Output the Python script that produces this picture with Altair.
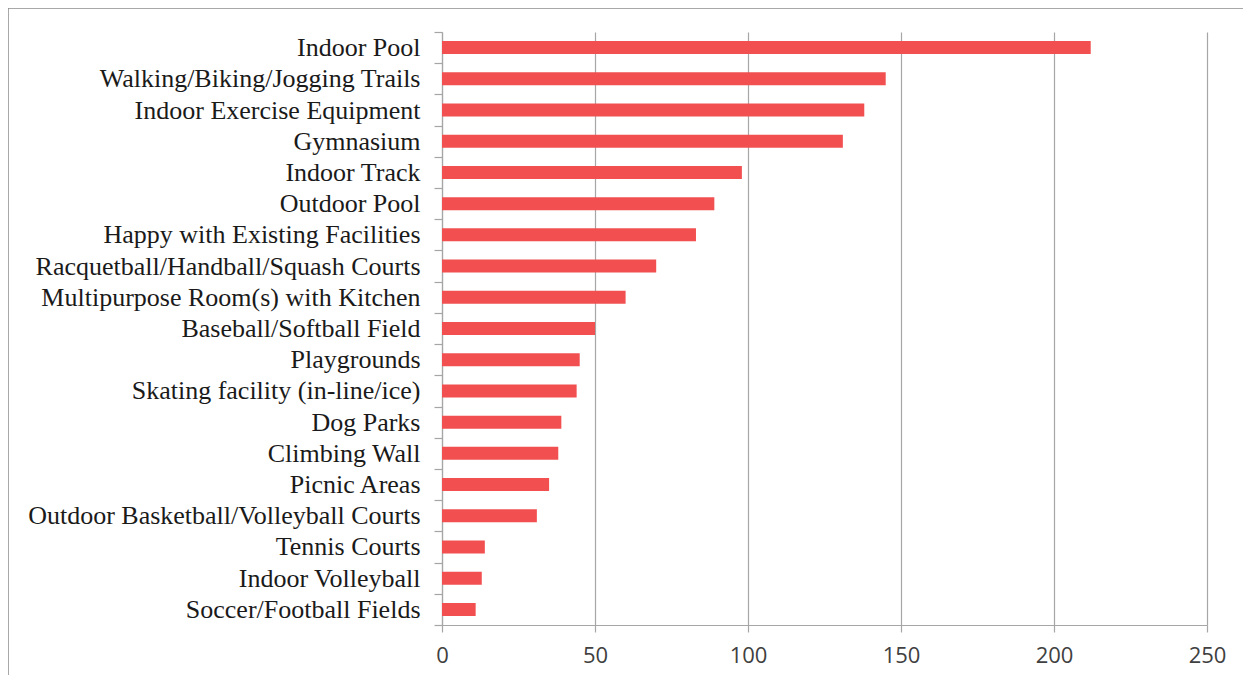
import altair as alt
import pandas as pd

categories = [
    "Indoor Pool",
    "Walking/Biking/Jogging Trails",
    "Indoor Exercise Equipment",
    "Gymnasium",
    "Indoor Track",
    "Outdoor Pool",
    "Happy with Existing Facilities",
    "Racquetball/Handball/Squash Courts",
    "Multipurpose Room(s) with Kitchen",
    "Baseball/Softball Field",
    "Playgrounds",
    "Skating facility (in-line/ice)",
    "Dog Parks",
    "Climbing Wall",
    "Picnic Areas",
    "Outdoor Basketball/Volleyball Courts",
    "Tennis Courts",
    "Indoor Volleyball",
    "Soccer/Football Fields",
]
values = [212, 145, 138, 131, 98, 89, 83, 70, 60, 50, 45, 44, 39, 38, 35, 31, 14, 13, 11]
x_ticks = [0, 50, 100, 150, 200, 250]

df = pd.DataFrame({"facility": categories, "count": values})

SERIF = "Liberation Serif"
SANS = "Open Sans"

bars = alt.Chart(df).mark_bar(color="#F25050", size=13).encode(
    x=alt.X(
        "count:Q",
        scale=alt.Scale(domain=[0, 250], nice=False),
        axis=alt.Axis(
            values=x_ticks,
            title=None,
            grid=True,
            gridColor="#A6A6A6",
            gridWidth=1.2,
            domainColor="#A6A6A6",
            domainWidth=1.2,
            tickColor="#A6A6A6",
            tickWidth=1.2,
            tickSize=7,
            labelFont=SANS,
            labelFontSize=22,
            labelColor="#404040",
            labelPadding=13,
            labelFlush=False,
        ),
    ),
    y=alt.Y(
        "facility:N",
        sort=categories,
        scale=alt.Scale(paddingInner=0, paddingOuter=0),
        axis=alt.Axis(
            title=None,
            grid=False,
            tickBand="extent",
            domainColor="#A6A6A6",
            domainWidth=1.2,
            tickColor="#A6A6A6",
            tickWidth=1.2,
            tickSize=8,
            labelFont=SERIF,
            labelFontSize=26,
            labelColor="#1A1A1A",
            labelPadding=14,
            labelLimit=600,
        ),
    ),
)

border = alt.Chart(pd.DataFrame({"a": [0]})).mark_rect(
    fill="transparent", stroke="#8C8C8C", strokeWidth=1.5
).encode(
    x=alt.value(-434),
    x2=alt.value(900),
    y=alt.value(-24),
    y2=alt.value(800),
)

chart = alt.layer(border, bars).properties(
    width=765,
    height=593,
    padding={"left": 434, "top": 24, "right": 36, "bottom": 50},
    autosize=alt.AutoSizeParams(type="none"),
).configure_view(stroke=None)

chart.save("out.html", embed_options={"renderer": "svg", "actions": False})
